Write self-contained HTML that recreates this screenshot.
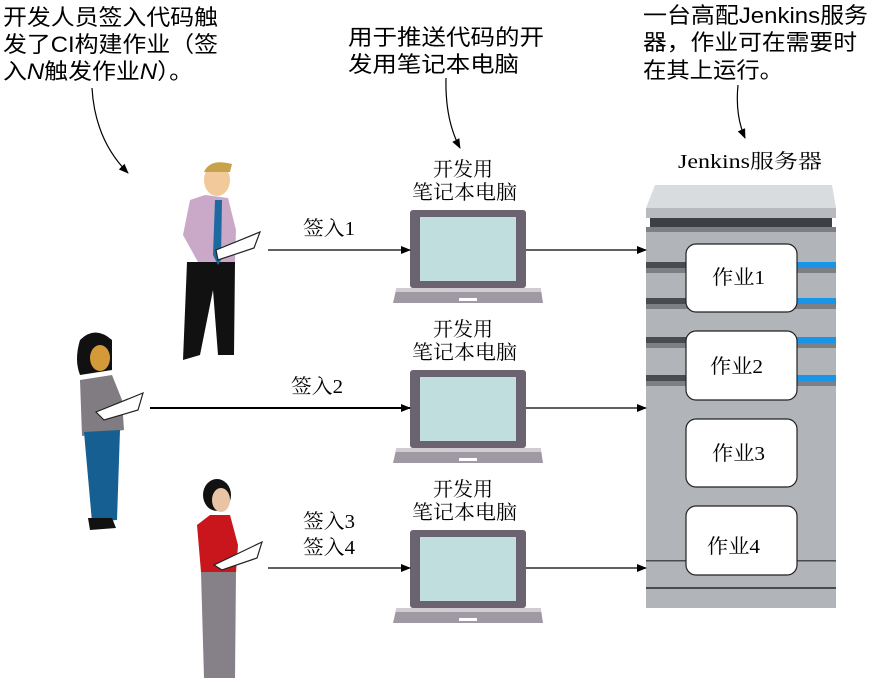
<!DOCTYPE html>
<html><head><meta charset="utf-8"><style>
html,body{margin:0;padding:0;background:#fff;}
svg{display:block;}
.t{font-family:"Liberation Sans","Noto Sans CJK SC",sans-serif;font-size:22px;fill:#000;}
.s{font-family:"Liberation Serif","Noto Serif CJK SC",serif;font-size:20px;fill:#000;}
</style></head><body>
<svg width="871" height="687" viewBox="0 0 871 687" xmlns="http://www.w3.org/2000/svg">
<defs>
<marker id="a" markerWidth="10" markerHeight="8" refX="9" refY="4" orient="auto" markerUnits="userSpaceOnUse"><path d="M0,0 L10,4 L0,8 Z" fill="#000"/></marker>
</defs>
<!-- annotations -->
<text class="t" x="3" y="25" textLength="215" lengthAdjust="spacingAndGlyphs">开发人员签入代码触</text>
<text class="t" x="3" y="52" textLength="215" lengthAdjust="spacingAndGlyphs">发了CI构建作业（签</text>
<text class="t" x="3" y="79" textLength="190" lengthAdjust="spacingAndGlyphs">入<tspan font-style="italic">N</tspan>触发作业<tspan font-style="italic">N</tspan>）。</text>
<text class="t" x="348" y="45" textLength="196" lengthAdjust="spacingAndGlyphs">用于推送代码的开</text>
<text class="t" x="348" y="72" textLength="171" lengthAdjust="spacingAndGlyphs">发用笔记本电脑</text>
<text class="t" x="643" y="23" textLength="225" lengthAdjust="spacingAndGlyphs">一台高配Jenkins服务</text>
<text class="t" x="643" y="50" textLength="214" lengthAdjust="spacingAndGlyphs">器，作业可在需要时</text>
<text class="t" x="643" y="78" textLength="140" lengthAdjust="spacingAndGlyphs">在其上运行。</text>
<path d="M92,88 Q95,140 128,173" fill="none" stroke="#000" stroke-width="1.2" marker-end="url(#a)"/>
<path d="M446,78 Q445,120 460,148" fill="none" stroke="#000" stroke-width="1.2" marker-end="url(#a)"/>
<path d="M738,85 Q735,115 745,138" fill="none" stroke="#000" stroke-width="1.2" marker-end="url(#a)"/>

<text class="s" x="678" y="168" font-size="21" textLength="144" lengthAdjust="spacingAndGlyphs">Jenkins服务器</text>
<!-- server -->
<polygon points="655,185 832,185 836,208 646,208" fill="#d9dcdf"/>
<rect x="646" y="208" width="190" height="10" fill="#b7babe"/>
<rect x="650" y="218" width="182" height="9" fill="#3e3f42"/>
<rect x="646" y="227" width="190" height="381" fill="#b1b4b9"/>
<rect x="646" y="227" width="190" height="5" fill="#7c7f84"/>
<g>
<rect x="646" y="262" width="190" height="6" fill="#4a4b4e"/><rect x="646" y="268" width="190" height="5" fill="#7c7f84"/>
<rect x="646" y="298" width="190" height="6" fill="#4a4b4e"/><rect x="646" y="304" width="190" height="5" fill="#7c7f84"/>
<rect x="646" y="337" width="190" height="6" fill="#4a4b4e"/><rect x="646" y="343" width="190" height="5" fill="#7c7f84"/>
<rect x="646" y="375" width="190" height="6" fill="#4a4b4e"/><rect x="646" y="381" width="190" height="5" fill="#7c7f84"/>
<rect x="796" y="262" width="40" height="6" fill="#1a94e8"/><rect x="796" y="298" width="40" height="6" fill="#1a94e8"/>
<rect x="796" y="337" width="40" height="6" fill="#1a94e8"/><rect x="796" y="375" width="40" height="6" fill="#1a94e8"/>
<rect x="646" y="560" width="190" height="1.5" fill="#4a4b4e"/>
<rect x="646" y="587" width="190" height="2" fill="#4a4b4e"/>
</g>
<g fill="#fff" stroke="#222" stroke-width="1.2">
<rect x="686" y="244" width="111" height="68" rx="10"/>
<rect x="686" y="331" width="111" height="69" rx="10"/>
<rect x="686" y="419" width="111" height="68" rx="10"/>
<rect x="686" y="506" width="111" height="69" rx="10"/>
</g>
<text class="s" x="712" y="284" textLength="53" lengthAdjust="spacingAndGlyphs">作业1</text>
<text class="s" x="710" y="373" textLength="53" lengthAdjust="spacingAndGlyphs">作业2</text>
<text class="s" x="712" y="460" textLength="53" lengthAdjust="spacingAndGlyphs">作业3</text>
<text class="s" x="707" y="553" textLength="53" lengthAdjust="spacingAndGlyphs">作业4</text>

<!-- laptops -->
<g id="lp">
<rect x="410" y="210" width="116" height="78" rx="3" fill="#6b6470"/>
<rect x="420" y="217" width="96" height="64" fill="#bfdedd"/>
<path d="M396,290 L541,290 L543,303 L393,303 Z" fill="#9f99a3"/>
<rect x="396" y="288" width="145" height="4" fill="#d0ccd2"/>
<rect x="459" y="298" width="18" height="3" fill="#fff"/>
</g>
<use href="#lp" y="160"/>
<use href="#lp" y="320"/>
<g class="s">
<text class="s" x="433" y="176" textLength="60" lengthAdjust="spacingAndGlyphs">开发用</text><text class="s" x="412" y="199" textLength="105" lengthAdjust="spacingAndGlyphs">笔记本电脑</text>
<text class="s" x="433" y="336" textLength="60" lengthAdjust="spacingAndGlyphs">开发用</text><text class="s" x="412" y="359" textLength="105" lengthAdjust="spacingAndGlyphs">笔记本电脑</text>
<text class="s" x="433" y="496" textLength="60" lengthAdjust="spacingAndGlyphs">开发用</text><text class="s" x="412" y="519" textLength="105" lengthAdjust="spacingAndGlyphs">笔记本电脑</text>
</g>

<!-- arrows -->
<g stroke="#000" stroke-width="1.3" fill="none">
<line x1="268" y1="250" x2="410" y2="250" marker-end="url(#a)"/>
<line x1="526" y1="250" x2="646" y2="250" marker-end="url(#a)"/>
<line x1="150" y1="408" x2="410" y2="408" marker-end="url(#a)" stroke-width="2"/>
<line x1="526" y1="408" x2="646" y2="408" marker-end="url(#a)"/>
<line x1="268" y1="568" x2="410" y2="568" marker-end="url(#a)"/>
<line x1="526" y1="568" x2="646" y2="568" marker-end="url(#a)"/>
</g>
<text class="s" x="303" y="235" textLength="52" lengthAdjust="spacingAndGlyphs">签入1</text>
<text class="s" x="291" y="393" textLength="52" lengthAdjust="spacingAndGlyphs">签入2</text>
<text class="s" x="303" y="528" textLength="52" lengthAdjust="spacingAndGlyphs">签入3</text>
<text class="s" x="303" y="554" textLength="52" lengthAdjust="spacingAndGlyphs">签入4</text>

<!-- person 1 -->
<path d="M187,262 L235,262 L234,355 L218,355 L213,290 L200,355 L183,360 Z" fill="#111"/>
<path d="M183,235 L190,200 L205,195 L228,198 L236,230 L235,262 L198,262 Z" fill="#c9a9c7"/>
<path d="M215,200 L222,200 L221,260 L218,265 L213,255 Z" fill="#1c6aa0"/>
<ellipse cx="217" cy="180" rx="13" ry="16" fill="#f2c99a"/>
<path d="M204,172 Q210,158 232,164 L230,172 Z" fill="#c8a24a"/>
<path d="M216,250 L260,232 L254,248 L218,260 Z" fill="#fff" stroke="#222" stroke-width="1.2"/>
<!-- person 2 -->
<ellipse cx="95" cy="355" rx="14" ry="17" fill="#d49a3a"/>
<path d="M80,340 Q95,325 112,340 L112,370 L80,375 Q74,360 80,340 Z" fill="#111"/>
<ellipse cx="100" cy="358" rx="10" ry="13" fill="#d49a3a"/>
<path d="M80,380 L112,375 L122,400 L124,430 L82,436 Z" fill="#807c82"/>
<path d="M84,432 L120,430 L117,520 L92,522 Z" fill="#165f92"/>
<path d="M88,518 L112,518 L116,528 L90,530 Z" fill="#111"/>
<path d="M96,412 L143,393 L138,410 L104,420 Z" fill="#fff" stroke="#222" stroke-width="1.2"/>
<!-- person 3 -->
<ellipse cx="217" cy="495" rx="14" ry="16" fill="#111"/>
<ellipse cx="221" cy="500" rx="9" ry="12" fill="#e9c4a4"/>
<path d="M197,525 L210,515 L230,515 L238,545 L236,572 L201,572 Z" fill="#c8161c"/>
<path d="M201,572 L236,572 L235,678 L204,678 Z" fill="#868089"/>
<path d="M214,565 L262,542 L257,558 L222,570 Z" fill="#fff" stroke="#222" stroke-width="1.2"/>
</svg>
</body></html>
